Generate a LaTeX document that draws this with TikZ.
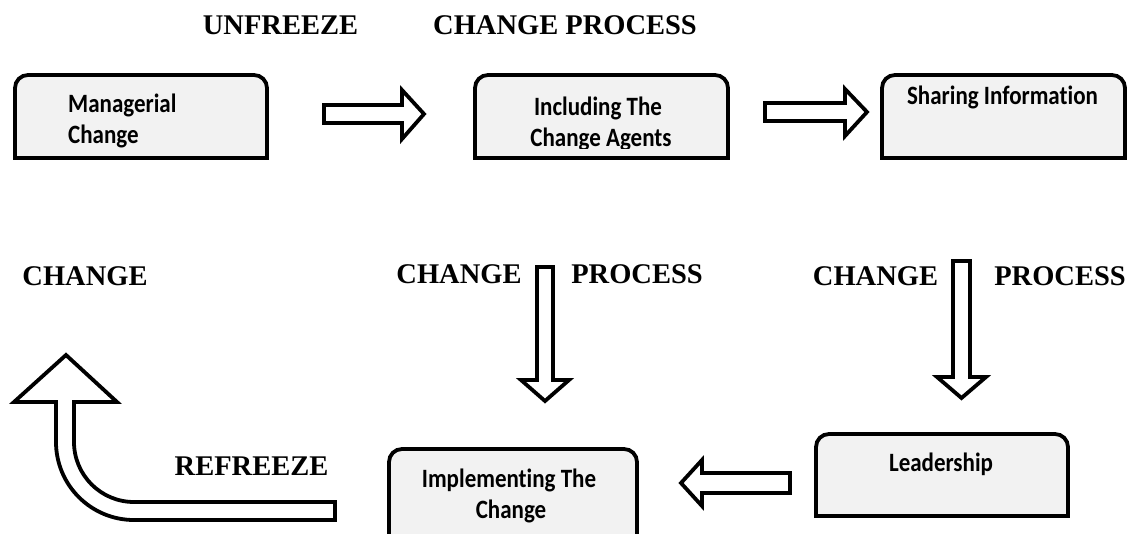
\documentclass[tikz,border=0pt]{standalone}
\usepackage{fontspec}
\setmainfont{Liberation Serif}
\newfontfamily\boxfont[Ligatures=NoCommon]{Carlito}
\definecolor{boxfill}{RGB}{242,242,242}
\newcommand\bt[1]{\scalebox{1}[1.15]{#1}}
\tikzset{
  boxarea/.style={draw=none,inner sep=0pt,outer sep=0pt},
  boxline/.style={line width=3.8pt,rounded corners=13pt,fill=boxfill,draw=black},
  boxbottom/.style={line width=3.8pt,line cap=rect,draw=black},
  btext/.style={inner sep=0pt,font=\boxfont\bfseries\fontsize{23}{28}\selectfont},
  htext/.style={inner sep=0pt,font=\bfseries\fontsize{28.5}{34}\selectfont},
  blockarrow/.style={line width=3.8pt,line join=miter,draw=black,fill=white}
}
\newcommand\topround[1]{%
  \filldraw[boxline] (#1.south west) -- (#1.north west) -- (#1.north east) -- (#1.south east);
  \draw[boxbottom] (#1.south west) -- (#1.south east);}
\begin{document}
\begin{tikzpicture}[x=1pt,y=-1pt]
\useasboundingbox (0,0) rectangle (1137,533);
\clip (0,0) rectangle (1137,533);

% headings
\node[htext] (unfreeze) at (280.5,25) {UNFREEZE};
\node[htext] (cp1) at (565,25) {CHANGE PROCESS};
\node[htext] (change) at (85,276) {CHANGE};
\node[htext] (cpa) at (459,274) {CHANGE};
\node[htext] (cpb) at (637,274) {PROCESS};
\node[htext] (cpc) at (875.5,276) {CHANGE};
\node[htext] (cpd) at (1060,276) {PROCESS};
\node[htext] (refreeze) at (251.5,466) {REFREEZE};

% box areas
\node[boxarea,minimum width=252pt,minimum height=83pt] (b1) at (141,116.5) {};
\node[boxarea,minimum width=253pt,minimum height=83pt] (b2) at (601.5,116.5) {};
\node[boxarea,minimum width=243pt,minimum height=83pt] (b3) at (1003.5,116.5) {};
\node[boxarea,minimum width=252pt,minimum height=82pt] (b4) at (942,475) {};
\node[boxarea,minimum width=248pt,minimum height=96pt] (b5) at (513,497) {};

\topround{b1}
\topround{b2}
\topround{b3}
\topround{b4}
\filldraw[boxline] (b5.south west) -- (b5.north west) -- (b5.north east) -- (b5.south east);

% box texts
\node[btext,anchor=base west] (t1a) at (68,112) {\bt{Managerial}};
\node[btext,anchor=base west] (t1b) at (68,143) {\bt{Change}};
\node[btext,anchor=base] (t2a) at (598,115) {\bt{Including The}};
\begin{scope}
  \clip (470,60) rectangle (740,148);
  \node[btext,anchor=base] (t2b) at (601,146) {\bt{Change Agents}};
\end{scope}
\node[btext,anchor=base] (t3) at (1002.5,104) {\bt{Sharing Information}};
\node[btext,anchor=base] (t4) at (941,471) {\bt{Leadership}};
\node[btext,anchor=base] (t5a) at (509,487) {\bt{Implementing The}};
\node[btext,anchor=base] (t5b) at (511,518) {\bt{Change}};

% block arrows
% right arrow 1
\draw[blockarrow] (324,105) -- (402,105) -- (402,90) -- (424,114) -- (402,139) -- (402,123) -- (324,123) -- cycle;
% right arrow 2
\draw[blockarrow] (765,103) -- (845,103) -- (845,89) -- (867,112) -- (845,136) -- (845,121) -- (765,121) -- cycle;
% down arrow (middle)
\draw[blockarrow] (537,267) -- (553,267) -- (553,380) -- (569,380) -- (545,401) -- (521,380) -- (537,380) -- cycle;
% down arrow (right)
\draw[blockarrow] (953,261) -- (970,261) -- (970,377) -- (986,377) -- (961.5,398) -- (937,377) -- (953,377) -- cycle;
% left arrow
\draw[blockarrow] (790,473) -- (702,473) -- (702,460) -- (681,483) -- (702,506) -- (702,493) -- (790,493) -- cycle;
% refreeze curved arrow
\draw[blockarrow] (335,502) -- (134,502) arc[start angle=90,end angle=180,radius=60]
  -- (74,402) -- (117,402) -- (66,355) -- (14,402) -- (56,402) -- (56,442)
  arc[start angle=180,end angle=90,radius=78] -- (335,520) -- cycle;
\end{tikzpicture}
\end{document}
